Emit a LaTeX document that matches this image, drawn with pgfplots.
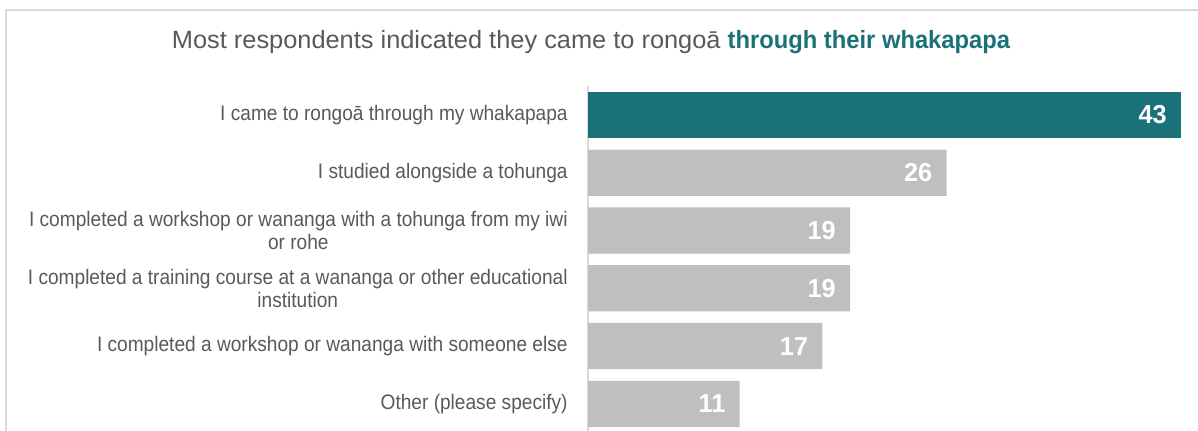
\documentclass[border=0pt]{standalone}
\usepackage{fontspec}
\setmainfont{Liberation Sans}[FakeStretch=0.91]
\newfontfamily\numfont{Liberation Sans}[FakeStretch=0.97]
\newfontfamily\titlefont{Liberation Sans}[FakeStretch=1.015]
\newfontfamily\titlebold{Liberation Sans}[FakeStretch=0.95]
\usepackage{pgfplots}
\pgfplotsset{compat=1.18}
\definecolor{barteal}{HTML}{1B7178}
\definecolor{bargray}{HTML}{BFBFBF}
\definecolor{txtgray}{HTML}{595959}
\definecolor{framegray}{HTML}{D9D9D9}
\begin{document}
\begin{tikzpicture}
\useasboundingbox (0,0) rectangle (599pt,215pt);
\draw[framegray, line width=1pt] (3pt,-5pt) -- (3pt,210pt) -- (605pt,210pt);
\node[anchor=base, inner sep=0pt, font=\titlefont\fontsize{12.5}{15}\selectfont, text=txtgray] at (295.5pt,191pt) {Most respondents indicated they came to rongoā \textcolor{barteal}{\titlebold\bfseries through their whakapapa}};
\begin{axis}[
 at={(294pt,172pt)}, anchor=north west,
 scale only axis, width=310.3pt, height=173.4pt,
 xmin=0, xmax=45, ymin=-0.5, ymax=5.5, y dir=reverse,
 axis x line=none, axis y line*=left,
 y axis line style={framegray, line width=1pt, -},
 xtick=\empty, ytick={0,1,2,3,4,5},
 yticklabels={{I came to rongoā through my whakapapa},{I studied alongside a tohunga},{I completed a workshop or wananga with a tohunga from my iwi\\or rohe},{I completed a training course at a wananga or other educational\\institution},{I completed a workshop or wananga with someone else},{Other (please specify)}},
 major tick length=0pt,
 yticklabel style={align=center, text=txtgray, font=\fontsize{10.5}{11.5}\selectfont, inner sep=0pt, xshift=-10pt},
 xbar, bar width=0.8, bar shift=0pt,
 nodes near coords={\pgfmathprintnumber[assume math mode=true]{\pgfplotspointmeta}},
 every node near coord/.append style={anchor=east, inner sep=0pt, xshift=-7pt, text=white, font=\numfont\bfseries\fontsize{13}{13}\selectfont},
 clip=false,
]
\addplot[draw=none, fill=barteal] coordinates {(43,0)};
\addplot[draw=none, fill=bargray] coordinates {(26,1) (19,2) (19,3) (17,4) (11,5)};
\end{axis}
\end{tikzpicture}
\end{document}
